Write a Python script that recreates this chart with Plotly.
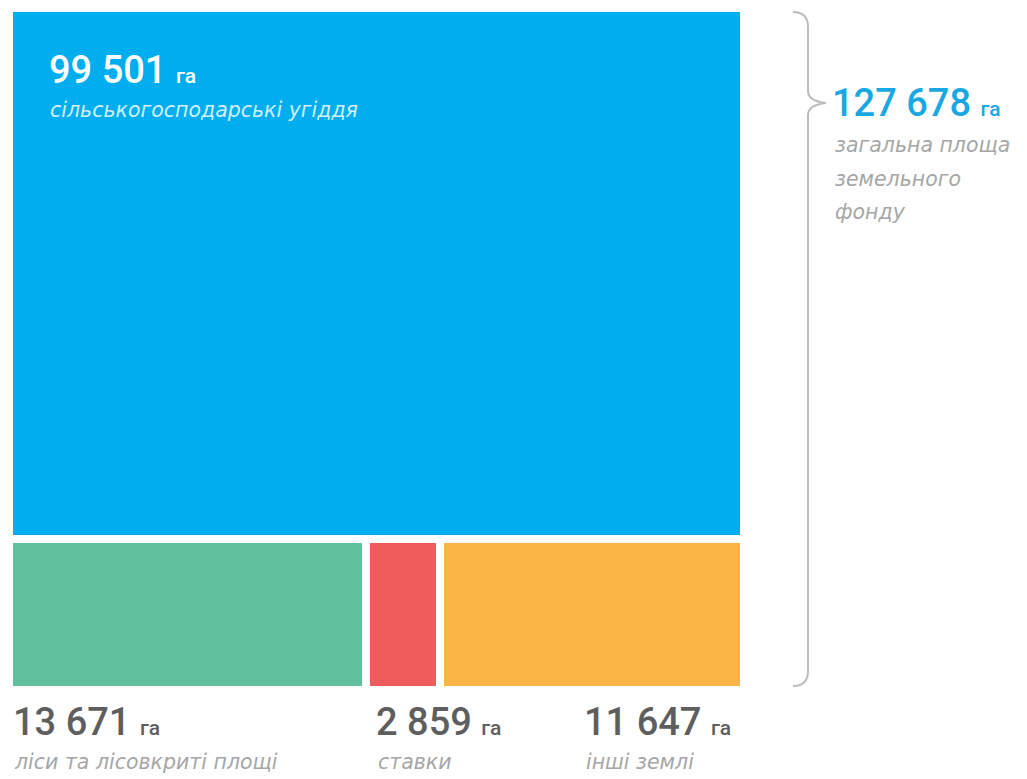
import plotly.graph_objects as go

# Land fund structure, hectares
top_label = "сільськогосподарські угіддя"
top_value = 99501
bottom_labels = ["ліси та лісовкриті площі", "ставки", "інші землі"]
bottom_values = [13671, 2859, 11647]
bottom_colors = ["#60C09E", "#F05B5B", "#FBB545"]
top_color = "#00AEEF"
total_label = ["загальна площа", "земельного", "фонду"]

W, H = 1027, 779
total = top_value + sum(bottom_values)
bottom_sum = sum(bottom_values)


def fmt(v):
    return f"{v:,}".replace(",", " ")


def px(x):
    return x / W


def py(y):
    return 1 - y / H


# bar geometry derived from the values
centers = []
acc = 0
for v in bottom_values:
    centers.append(acc + v / 2)
    acc += v

GAP = 8
fig = go.Figure()
fig.add_trace(go.Bar(
    x=[bottom_sum / 2], y=[top_value], base=[bottom_sum], width=[bottom_sum],
    marker=dict(color=top_color, line=dict(color="white", width=GAP)),
    hoverinfo="skip", showlegend=False,
))
fig.add_trace(go.Bar(
    x=centers, y=[bottom_sum] * 3, base=[0] * 3, width=bottom_values,
    marker=dict(color=bottom_colors, line=dict(color="white", width=GAP)),
    hoverinfo="skip", showlegend=False,
))

num_font = "Roboto"
lab_font = "DejaVu Sans"
annotations = []


def num_text(v, unit_size=21):
    return f"{fmt(v)} <span style='font-size:{unit_size}px'>га</span>"


def add(text, x, y, size, color, family, anchor="left", weight=None, italic=False):
    f = dict(size=size, color=color, family=family)
    if weight:
        f["weight"] = weight
    if italic:
        f["style"] = "italic"
    annotations.append(dict(
        text=text, x=px(x), y=py(y), xref="paper", yref="paper",
        xanchor=anchor, yanchor="middle", showarrow=False, font=f,
    ))


NUM = 38
LAB = 20.5
GREY_NUM = "#5E5E5E"
GREY_LAB = "#A6A6A6"

# top block labels
add(num_text(top_value), 47, 70, NUM, "#FFFFFF", num_font, weight=500)
add(top_label, 48, 110, LAB, "#D2F0FC", lab_font, italic=True)

# total, next to the brace
add(num_text(total), 830, 103, NUM, "#1AA8E2", num_font, weight=500)
for i, t in enumerate(total_label):
    add(t, 833, 145 + i * 33.5, LAB, GREY_LAB, lab_font, italic=True)

# bottom row labels
add(num_text(bottom_values[0]), 11, 722, NUM, GREY_NUM, num_font, weight=500)
add(bottom_labels[0], 12, 762, LAB, GREY_LAB, lab_font, italic=True)
add(num_text(bottom_values[1]), 374, 722, NUM, GREY_NUM, num_font, weight=500)
add(bottom_labels[1], 376, 762, LAB, GREY_LAB, lab_font, italic=True)
add(num_text(bottom_values[2]), 582, 722, NUM, GREY_NUM, num_font, weight=500)
add(bottom_labels[2], 584, 762, LAB, GREY_LAB, lab_font, italic=True)

# curly brace spanning the whole block
bx, tip = 808, 826
yt, ym, yb = 12, 103, 686
path = (
    f"M {px(793)} {py(yt)} "
    f"Q {px(bx)} {py(yt)} {px(bx)} {py(yt + 15)} "
    f"L {px(bx)} {py(ym - 12)} "
    f"Q {px(bx)} {py(ym - 2)} {px(tip)} {py(ym)} "
    f"Q {px(bx)} {py(ym + 2)} {px(bx)} {py(ym + 12)} "
    f"L {px(bx)} {py(yb - 15)} "
    f"Q {px(bx)} {py(yb)} {px(793)} {py(yb)}"
)
shapes = [dict(type="path", path=path, xref="paper", yref="paper",
               line=dict(color="#BDBDBD", width=2))]

fig.update_layout(
    width=W, height=H,
    margin=dict(l=0, r=0, t=0, b=0),
    paper_bgcolor="white", plot_bgcolor="white",
    bargap=0,
    xaxis=dict(range=[0, bottom_sum], domain=[px(9), px(744)],
               visible=False, fixedrange=True),
    yaxis=dict(range=[0, total], domain=[py(690), py(8)],
               visible=False, fixedrange=True),
    annotations=annotations,
    shapes=shapes,
)

fig.write_html("out.html")
